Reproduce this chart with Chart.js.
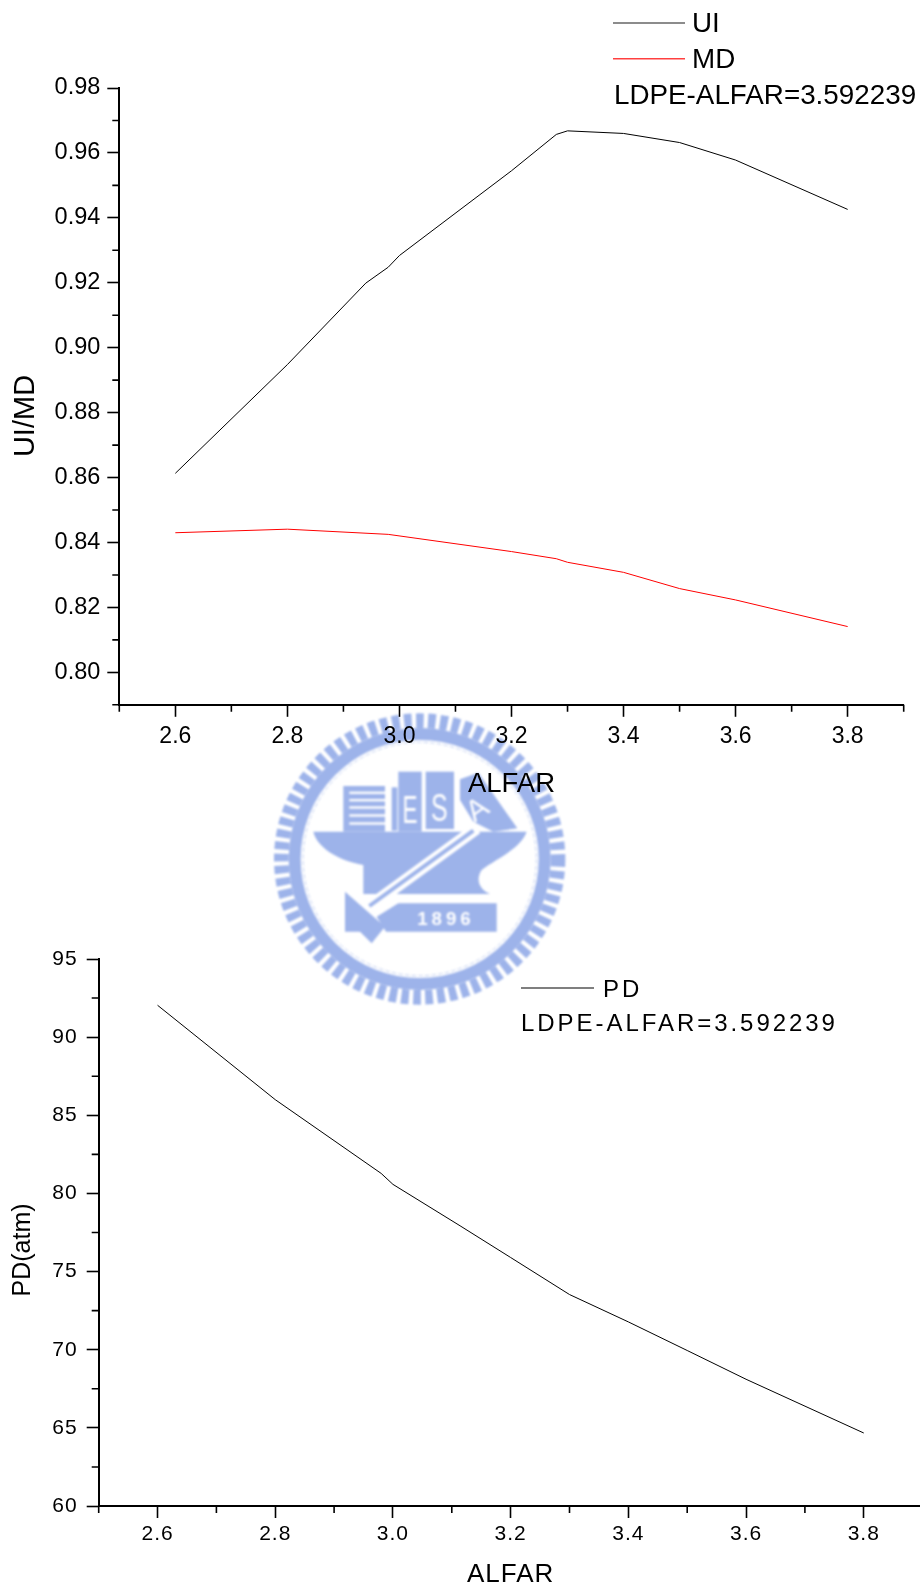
<!DOCTYPE html>
<html lang="en">
  <head>
    <meta charset="UTF-8" />
    <title>UI/MD and PD vs ALFAR</title>
    <script src="https://cdn.jsdelivr.net/npm/chart.js"></script>
    <style>
      html,
      body {
        margin: 0;
        padding: 0;
        width: 920px;
        height: 1589px;
        overflow: hidden;
        background: #fff;
      }
      canvas,
      #seal {
        position: absolute;
        left: 0;
      }
      #topChart {
        top: 0;
      }
      #bottomChart {
        top: 900px;
      }
      #seal {
        left: 260px;
        top: 700px;
        filter: blur(0.9px);
      }
    </style>
  </head>
  <body>
    <!-- watermark behind both charts -->
    <svg id="seal" width="310" height="310" viewBox="0 0 930 930">
      <g fill="#9db3ea">
        <circle cx="479" cy="477" r="415" fill="none" stroke="#9db3ea" stroke-width="44" stroke-dasharray="23 13" />
        <circle cx="479" cy="477" r="375" fill="none" stroke="#9db3ea" stroke-width="36" />
        <circle cx="479" cy="477" r="350" fill="none" stroke="#c3d0f0" stroke-width="3" stroke-dasharray="14 6" />
        <rect x="250" y="258" width="125" height="137" />
        <g fill="#fff">
          <rect x="268" y="275" width="107" height="7" />
          <rect x="268" y="297" width="107" height="7" />
          <rect x="268" y="319" width="107" height="7" />
          <rect x="268" y="343" width="107" height="7" />
          <rect x="268" y="367" width="107" height="7" />
        </g>
        <rect x="395" y="262" width="17" height="130" />
        <rect x="415" y="215" width="70" height="180" />
        <rect x="497" y="215" width="85" height="172" />
        <polygon points="600,238 655,218 772,385 700,395 640,365 600,300" />
        <path d="M160 395 H800 C780 450 700 480 665 510 C645 540 660 570 690 582 H310 V495 C230 480 170 440 160 395 Z" />
        <path d="M650 385 L320 625" stroke="#fff" stroke-width="36" />
        <path d="M640 392 L328 618" stroke="#9db3ea" stroke-width="12" />
        <polygon points="255,575 375,680 335,730 300,695 255,695" />
        <polygon points="415,610 710,610 710,695 378,695 350,650" />
      </g>
      <g fill="#fff" font-family="Liberation Sans" text-anchor="middle">
        <text x="450" y="368" font-size="115" textLength="45" lengthAdjust="spacingAndGlyphs">E</text>
        <text x="538" y="362" font-size="115" textLength="50" lengthAdjust="spacingAndGlyphs">S</text>
        <text transform="translate(668 352) rotate(-35)" font-size="90">A</text>
        <text x="558" y="674" font-size="56" font-weight="bold" letter-spacing="12">1896</text>
      </g>
    </svg>

    <canvas id="topChart" width="920" height="800"></canvas>
    <canvas id="bottomChart" width="930" height="689"></canvas>

    <script>
      const FONT = '"Liberation Sans", Arial, sans-serif';

      // top chart
      const uiAlfar = [2.6, 2.8, 2.94, 2.98, 3.0, 3.2, 3.28, 3.3, 3.4, 3.5, 3.6, 3.8];
      const uiValues = [0.8613, 0.8948, 0.9199, 0.9248, 0.9284, 0.9545, 0.9657, 0.9668, 0.966, 0.9632, 0.9578, 0.9426];
      const mdAlfar = [2.6, 2.8, 2.98, 3.2, 3.28, 3.3, 3.4, 3.5, 3.6, 3.8];
      const mdValues = [0.843, 0.8441, 0.8425, 0.8372, 0.835, 0.8339, 0.8308, 0.8258, 0.8223, 0.8141];
      const topYMajor = [0.8, 0.82, 0.84, 0.86, 0.88, 0.9, 0.92, 0.94, 0.96, 0.98];
      const topYMinor = [0.79, 0.81, 0.83, 0.85, 0.87, 0.89, 0.91, 0.93, 0.95, 0.97];

      // bottom chart
      const pdAlfar = [2.6, 2.8, 2.98, 3.0, 3.114, 3.2, 3.3, 3.4, 3.5, 3.6, 3.8];
      const pdValues = [92.04, 86.0, 81.28, 80.58, 77.93, 75.9, 73.53, 71.78, 69.95, 68.11, 64.67];
      const bottomYMajor = [60, 65, 70, 75, 80, 85, 90, 95];
      const bottomYMinor = [62.5, 67.5, 72.5, 77.5, 82.5, 87.5, 92.5];

      // shared x axis ticks
      const xMajor = [2.6, 2.8, 3.0, 3.2, 3.4, 3.6, 3.8];
      const xMinor = [2.5, 2.7, 2.9, 3.1, 3.3, 3.5, 3.7, 3.9];

      const toPoints = (xs, ys) => xs.map((x, i) => ({ x, y: ys[i] }));

      // minor ticks, rotated y title and the legend block
      const overlayPlugin = (opts) => ({
        id: "overlay",
        beforeDraw(chart) {
          chart.ctx.letterSpacing = opts.spacing;
        },
        afterDraw(chart) {
          const { ctx, scales } = chart;
          ctx.save();
          ctx.strokeStyle = "#000";
          ctx.lineWidth = 1.6;
          ctx.beginPath();
          xMinor.forEach((v) => {
            const px = scales.x.getPixelForValue(v);
            ctx.moveTo(px, scales.x.top);
            ctx.lineTo(px, scales.x.top + 7);
          });
          opts.yMinor.forEach((v) => {
            const py = scales.y.getPixelForValue(v);
            ctx.moveTo(scales.y.right, py);
            ctx.lineTo(scales.y.right - 7, py);
          });
          ctx.stroke();

          ctx.fillStyle = "#000";
          ctx.textBaseline = "middle";
          ctx.textAlign = "center";
          ctx.letterSpacing = "0px";
          ctx.save();
          ctx.translate(opts.yTitle.x, opts.yTitle.y);
          ctx.rotate(-Math.PI / 2);
          ctx.font = `${opts.yTitle.size}px ${FONT}`;
          ctx.fillText(opts.yTitle.text, 0, 0);
          ctx.restore();

          ctx.textAlign = "left";
          ctx.font = `${opts.legendSize}px ${FONT}`;
          ctx.letterSpacing = opts.legendSpacing;
          opts.legend.forEach((item) => {
            if (item.color) {
              ctx.strokeStyle = item.color;
              ctx.lineWidth = 1.5;
              ctx.beginPath();
              ctx.moveTo(item.lineFrom, item.lineY);
              ctx.lineTo(item.lineTo, item.lineY);
              ctx.stroke();
            }
            ctx.fillText(item.text, item.x, item.y);
          });
          ctx.restore();
        },
      });

      function drawChart(id, cfg) {
        return new Chart(document.getElementById(id), {
          type: "line",
          data: { datasets: cfg.datasets },
          plugins: [overlayPlugin(cfg.overlay)],
          options: {
            responsive: false,
            animation: false,
            layout: { padding: { top: cfg.top, right: cfg.right, bottom: 0, left: 0 } },
            plugins: { legend: { display: false }, tooltip: { enabled: false } },
            elements: { point: { radius: 0 }, line: { borderWidth: 1, tension: 0 } },
            scales: {
              x: {
                type: "linear",
                min: 2.5,
                max: 3.9,
                afterBuildTicks: (s) => (s.ticks = xMajor.map((value) => ({ value }))),
                afterFit: (s) => (s.height = cfg.xHeight),
                border: { color: "#000", width: 2 },
                grid: { drawOnChartArea: false, tickLength: 12, tickWidth: 1.6, tickColor: "#000" },
                ticks: {
                  color: "#000",
                  font: { family: FONT, size: cfg.xTickSize },
                  padding: cfg.xTickPad,
                  maxRotation: 0,
                  autoSkip: false,
                  callback: (v) => v.toFixed(1),
                },
                title: {
                  display: true,
                  text: "ALFAR",
                  color: "#000",
                  font: { family: FONT, size: cfg.xTitleSize },
                  padding: { top: 0, bottom: cfg.xTitlePad },
                },
              },
              y: {
                min: cfg.yMin,
                max: cfg.yMax,
                afterBuildTicks: (s) => (s.ticks = cfg.yMajor.map((value) => ({ value }))),
                afterFit: (s) => (s.width = cfg.yWidth),
                border: { color: "#000", width: 2 },
                grid: { drawOnChartArea: false, tickLength: 12, tickWidth: 1.6, tickColor: "#000" },
                ticks: {
                  color: "#000",
                  font: { family: FONT, size: cfg.yTickSize },
                  padding: cfg.yTickPad,
                  autoSkip: false,
                  callback: (v) => v.toFixed(cfg.yDigits),
                },
              },
            },
          },
        });
      }

      drawChart("topChart", {
        datasets: [
          { label: "UI", data: toPoints(uiAlfar, uiValues), borderColor: "#000" },
          { label: "MD", data: toPoints(mdAlfar, mdValues), borderColor: "#ff0000" },
        ],
        top: 88,
        right: 16.3,
        xHeight: 95.2,
        yWidth: 119.3,
        yMin: 0.79,
        yMax: 0.98,
        yMajor: topYMajor,
        yDigits: 2,
        xTickSize: 23,
        yTickSize: 23.5,
        xTickPad: 6.2,
        yTickPad: 7,
        xTitleSize: 27.5,
        xTitlePad: -0.5,
        overlay: {
          spacing: "0px",
          yMinor: topYMinor,
          yTitle: { text: "UI/MD", x: 25.5, y: 416, size: 29 },
          legendSize: 27.8,
          legendSpacing: "0px",
          legend: [
            { text: "UI", x: 692, y: 24.5, color: "#666", lineFrom: 613, lineTo: 685, lineY: 23 },
            { text: "MD", x: 692, y: 60, color: "#ff4040", lineFrom: 613, lineTo: 685, lineY: 58.7 },
            { text: "LDPE-ALFAR=3.592239", x: 614, y: 96 },
          ],
        },
      });

      drawChart("bottomChart", {
        datasets: [{ label: "PD", data: toPoints(pdAlfar, pdValues), borderColor: "#000" }],
        top: 59,
        right: 7.4,
        xHeight: 83,
        yWidth: 98.7,
        yMin: 60,
        yMax: 95,
        yMajor: bottomYMajor,
        yDigits: 0,
        xTickSize: 21,
        yTickSize: 21,
        xTickPad: 3.4,
        yTickPad: 9,
        xTitleSize: 26,
        xTitlePad: -1,
        overlay: {
          spacing: "1px",
          yMinor: bottomYMinor,
          yTitle: { text: "PD(atm)", x: 23, y: 350, size: 25 },
          legendSize: 24,
          legendSpacing: "2.95px",
          legend: [
            { text: "PD", x: 603, y: 90, color: "#555", lineFrom: 521, lineTo: 594, lineY: 88 },
            { text: "LDPE-ALFAR=3.592239", x: 521, y: 124.5 },
          ],
        },
      });
    </script>
  </body>
</html>
